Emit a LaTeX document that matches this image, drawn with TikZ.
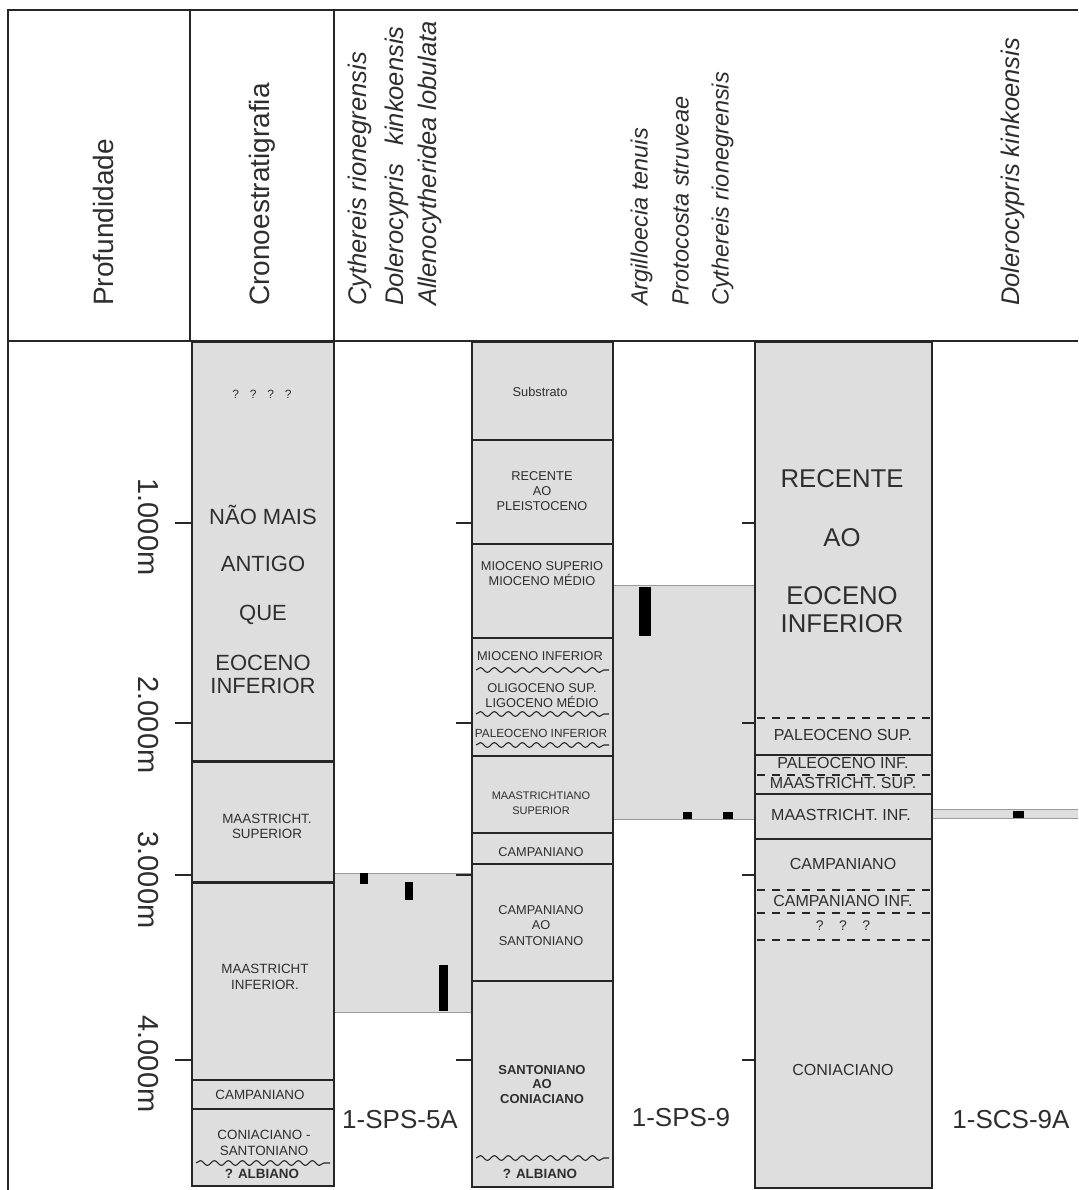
\documentclass[tikz,border=0pt]{standalone}
\usepackage{fontspec}
\setmainfont{Liberation Sans}
\usetikzlibrary{decorations.pathmorphing}
\definecolor{fillg}{HTML}{DEDEDE}
\definecolor{ln}{HTML}{262626}
\definecolor{tx}{HTML}{2E2E2E}
\definecolor{thin}{HTML}{9A9A9A}
\begin{document}
\begin{tikzpicture}[x=1pt,y=-1pt,
  frame/.style={draw=ln, line width=2.6pt},
  colbox/.style={fill=fillg, draw=ln, line width=2.4pt},
  sep/.style={draw=ln, line width=2.4pt},
  sepb/.style={draw=ln, line width=3pt},
  dsh/.style={draw=ln, line width=2.6pt, dash pattern=on 8pt off 7pt},
  wav/.style={draw=ln, line width=1.1pt, decorate, decoration={snake, segment length=14pt, amplitude=2.4pt}},
  bandfill/.style={fill=fillg},
  bandline/.style={draw=thin, line width=0.9pt},
  bar/.style={fill=black},
  tickline/.style={draw=ln, line width=2.4pt},
  txt/.style={inner sep=0pt, text height=0.716em, text depth=0pt, text=tx},
  hdr/.style={txt, font=\fontsize{28}{30}\selectfont, rotate=90, anchor=west, text depth=0.21em},
  spa/.style={txt, font=\fontsize{25.5}{28}\selectfont\itshape, rotate=90, anchor=west, text depth=0.21em},
  spb/.style={txt, font=\fontsize{23.5}{26}\selectfont\itshape, rotate=90, anchor=west, text depth=0.21em},
  dep/.style={txt, font=\fontsize{29}{31}\selectfont, rotate=-90},
  bigc/.style={txt, font=\fontsize{22}{24}\selectfont},
  bigr/.style={txt, font=\fontsize{25.7}{28}\selectfont},
  sm/.style={txt, font=\fontsize{13.4}{15}\selectfont},
  smb/.style={txt, font=\fontsize{13.4}{15}\selectfont\bfseries},
  sp9/.style={txt, font=\fontsize{12.8}{14}\selectfont},
  sp9s/.style={txt, font=\fontsize{11}{13}\selectfont},
  scs/.style={txt, font=\fontsize{16}{18}\selectfont},
  qm/.style={txt, font=\fontsize{12}{14}\selectfont},
  well/.style={txt, font=\fontsize{26}{28}\selectfont}
]
\useasboundingbox (0,0) rectangle (1078,1190);
\fill[white] (0,0) rectangle (1078,1190);

% ---------- gray range bands ----------
\fill[bandfill] (334,873) rectangle (471,1012);
\draw[bandline] (334,873) -- (471,873) (334,1012) -- (471,1012);
\fill[bandfill] (613,585) rectangle (755,819);
\draw[bandline] (613,585) -- (755,585) (613,819) -- (755,819);
\fill[bandfill] (932,809) rectangle (1078,818);
\draw[bandline] (932,809) -- (1078,809) (932,818) -- (1078,818);

% ---------- occurrence bars ----------
\fill[bar] (360,873) rectangle (368,884);
\fill[bar] (405,882) rectangle (413,900);
\fill[bar] (439,965) rectangle (448,1011);
\fill[bar] (639,587) rectangle (651,636);
\fill[bar] (683,812) rectangle (692,819);
\fill[bar] (723,812) rectangle (733,819);
\fill[bar] (1013,810.5) rectangle (1024,817.5);

% ---------- header frame ----------
\draw[frame] (1078,10) -- (8,10) -- (8,1190);
\draw[frame] (190,10) -- (190,341);
\draw[frame] (334,10) -- (334,341);
\draw[frame] (8,341) -- (1078,341);

% ---------- columns ----------
% Cronoestratigrafia
\draw[colbox] (192,342) rectangle (334,1186);
\draw[sepb] (192,761) -- (334,761);
\draw[sepb] (192,882) -- (334,882);
\draw[sep] (192,1080) -- (334,1080);
\draw[sep] (192,1109) -- (334,1109);
\draw[wav] (196,1163) -- (330,1163);
% 1-SPS-9
\draw[colbox] (472,342) rectangle (613,1187);
\foreach \yy in {440,544,638,756,833,864,981} \draw[sep] (472,\yy) -- (613,\yy);
\foreach \yy in {670,714,745,1158} \draw[wav] (476,\yy) -- (609,\yy);
% 1-SCS-9A
\draw[colbox] (755,342) rectangle (932,1188);
\foreach \yy in {755,794,839} \draw[sep] (755,\yy) -- (932,\yy);
\foreach \yy in {718,775,890,913,940} \draw[dsh] (757,\yy) -- (932,\yy);

% ---------- depth ticks ----------
\foreach \yy in {523,723,875,1060} {
  \draw[tickline] (175,\yy) -- (192,\yy);
  \draw[tickline] (456,\yy) -- (472,\yy);
  \draw[tickline] (742,\yy) -- (755,\yy);
}

% ---------- header texts ----------
\node[hdr] (hprof) at (111,306) {Profundidade};
\node[hdr] (hcrono) at (267,306) {Cronoestratigrafia};
\node[spa] (s1a) at (364,306) {Cythereis rionegrensis};
\node[spa] (s1b) at (401,306) {Dolerocypris\hspace{0.45em} kinkoensis};
\node[spa] (s1c) at (434,306) {Allenocytheridea lobulata};
\node[spb] (s2a) at (645,306) {Argilloecia tenuis};
\node[spb] (s2b) at (686,306) {Protocosta struveae};
\node[spb] (s2c) at (726,306) {Cythereis rionegrensis};
\node[spa] (s3a) at (1017,306) {Dolerocypris kinkoensis};

% ---------- depth labels ----------
\node[dep] (d1) at (142,527) {1.000m};
\node[dep] (d2) at (142,725) {2.000m};
\node[dep] (d3) at (142,880) {3.000m};
\node[dep] (d4) at (142,1064) {4.000m};

% ---------- Cronoestratigrafia texts ----------
\node[qm] (cq) at (262,395) {?\hspace{0.9em}?\hspace{0.9em}?\hspace{0.9em}?};
\node[bigc] (c1) at (263,521) {NÃO MAIS};
\node[bigc] (c2) at (263,568) {ANTIGO};
\node[bigc] (c3) at (263,617) {QUE};
\node[bigc] (c4) at (263,667) {EOCENO};
\node[bigc] (c5) at (263,690) {INFERIOR};
\node[sm] (c6) at (267,820) {MAASTRICHT.};
\node[sm] (c7) at (267,835) {SUPERIOR};
\node[sm] (c8) at (265,970) {MAASTRICHT};
\node[sm] (c9) at (265,986) {INFERIOR.};
\node[sm] (c10) at (260,1096) {CAMPANIANO};
\node[sm] (c11) at (264,1136) {CONIACIANO -};
\node[sm] (c12) at (264,1152) {SANTONIANO};
\node[smb] (c13) at (262,1175) {? ALBIANO};

% ---------- 1-SPS-9 texts ----------
\node[sp9] (p1) at (540,393) {Substrato};
\node[sp9] (p2) at (542,477) {RECENTE};
\node[sp9] (p3) at (542,492) {AO};
\node[sp9] (p4) at (542,507) {PLEISTOCENO};
\node[sp9] (p5) at (542,567) {MIOCENO SUPERIO};
\node[sp9] (p6) at (542,582) {MIOCENO MÉDIO};
\node[sp9] (p7) at (540,657) {MIOCENO INFERIOR};
\node[sp9] (p8) at (542,689) {OLIGOCENO SUP.};
\node[sp9] (p9) at (542,704) {LIGOCENO MÉDIO};
\node[txt, font=\fontsize{11.8}{13}\selectfont] (p10) at (541,734) {PALEOCENO INFERIOR};
\node[sp9s] (p11) at (541,796) {MAASTRICHTIANO};
\node[sp9s] (p12) at (541,811) {SUPERIOR};
\node[sp9] (p13) at (541,853) {CAMPANIANO};
\node[sp9] (p14) at (541,911) {CAMPANIANO};
\node[sp9] (p15) at (541,926) {AO};
\node[sp9] (p16) at (541,942) {SANTONIANO};
\node[txt, font=\fontsize{13}{15}\selectfont\bfseries] (p17) at (542,1071) {SANTONIANO};
\node[txt, font=\fontsize{13}{15}\selectfont\bfseries] (p18) at (542,1085) {AO};
\node[txt, font=\fontsize{13}{15}\selectfont\bfseries] (p19) at (542,1100) {CONIACIANO};
\node[smb] (p20) at (540,1175) {? ALBIANO};

% ---------- 1-SCS-9A texts ----------
\node[bigr] (r1) at (842,484) {RECENTE};
\node[bigr] (r2) at (842,543) {AO};
\node[bigr] (r3) at (842,601) {EOCENO};
\node[bigr] (r4) at (842,629) {INFERIOR};
\node[scs] (r5) at (843,737) {PALEOCENO SUP.};
\node[scs] (r6) at (843,765) {PALEOCENO INF.};
\node[scs] (r7) at (843,785) {MAASTRICHT. SUP.};
\node[scs] (r8) at (841,817) {MAASTRICHT. INF.};
\node[scs] (r9) at (843,866) {CAMPANIANO};
\node[scs] (r10) at (843,903) {CAMPANIANO INF.};
\node[txt, font=\fontsize{14}{16}\selectfont] (r11) at (843,927) {?\hspace{1.1em}?\hspace{1.1em}?};
\node[scs] (r12) at (843,1072) {CONIACIANO};

% ---------- well names ----------
\node[well] (w1) at (400,1125) {1-SPS-5A};
\node[well] (w2) at (681,1123) {1-SPS-9};
\node[well] (w3) at (1011,1125) {1-SCS-9A};
\end{tikzpicture}
\end{document}
